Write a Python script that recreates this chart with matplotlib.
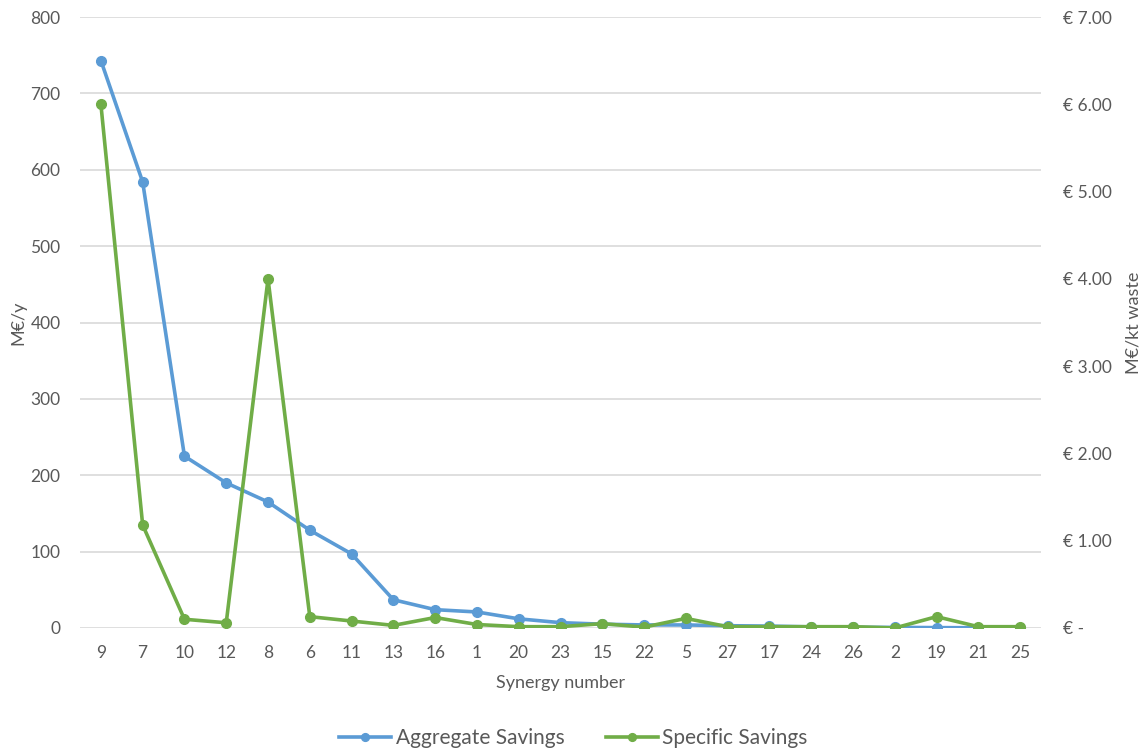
import matplotlib
matplotlib.use("Agg")
import matplotlib.pyplot as plt
from matplotlib.ticker import FuncFormatter

# Savings per synergy, ordered by aggregate savings
synergies = ["9", "7", "10", "12", "8", "6", "11", "13", "16", "1", "20", "23",
             "15", "22", "5", "27", "17", "24", "26", "2", "19", "21", "25"]
aggregate = [743, 584, 225, 190, 165, 128, 97, 37, 24, 21, 12, 7,
             5, 4, 4, 3, 2.5, 1.5, 1, 0.8, 0.5, 0.3, 0.2]          # M€/y
specific = [6.00, 1.18, 0.10, 0.06, 4.00, 0.13, 0.08, 0.03, 0.12, 0.04, 0.015, 0.015,
            0.05, 0.01, 0.11, 0.015, 0.015, 0.015, 0.015, 0.0, 0.13, 0.015, 0.015]  # M€/kt waste

BLUE = "#5B9BD5"
GREEN = "#70AD47"
GREY = "#595959"
GRID = "#D9D9D9"

plt.rcParams["font.family"] = ["Lato", "DejaVu Sans"]

fig = plt.figure(figsize=(11.47, 7.51), dpi=100)
ax = fig.add_axes([80 / 1147, 1 - 628 / 751, (1041 - 80) / 1147, (628 - 17) / 751])
ax2 = ax.twinx()

x = list(range(len(synergies)))
l1, = ax.plot(x, aggregate, color=BLUE, lw=2.6, marker="o", ms=7, label="Aggregate Savings", zorder=3)
l2, = ax2.plot(x, specific, color=GREEN, lw=2.6, marker="o", ms=7, label="Specific Savings", zorder=3)

ax.set_xlim(-0.5, len(synergies) - 0.5)
ax.set_ylim(0, 800)
ax.set_yticks(range(0, 801, 100))
ax2.set_ylim(0, 7)
ax2.set_yticks(range(0, 8))
ax2.yaxis.set_major_formatter(FuncFormatter(lambda v, p: "€ -" if v == 0 else f"€ {v:.2f}"))

ax.set_xticks(x)
ax.set_xticklabels(synergies)
ax.yaxis.grid(True, color=GRID, lw=1.2)
ax.set_axisbelow(True)

for a in (ax, ax2):
    for s in a.spines.values():
        s.set_visible(False)
    a.tick_params(length=0, colors=GREY, labelsize=12.5)
ax.tick_params(axis="x", pad=12)
ax.tick_params(axis="y", pad=14)
ax2.tick_params(axis="y", pad=16)

ax.set_ylabel("M€/y", color=GREY, fontsize=13, labelpad=3)
ax2.set_ylabel("M€/kt waste", color=GREY, fontsize=13, labelpad=10)
ax.set_xlabel("Synergy number", color=GREY, fontsize=13, labelpad=10)

fig.legend(handles=[l1, l2], loc="center", bbox_to_anchor=(0.5, 1 - 738 / 751), ncol=2,
           frameon=False, fontsize=15, labelcolor=GREY, handlelength=2.5, markerscale=0.8,
           columnspacing=2.0, handletextpad=0.2)

fig.savefig("out.png", dpi=100)
